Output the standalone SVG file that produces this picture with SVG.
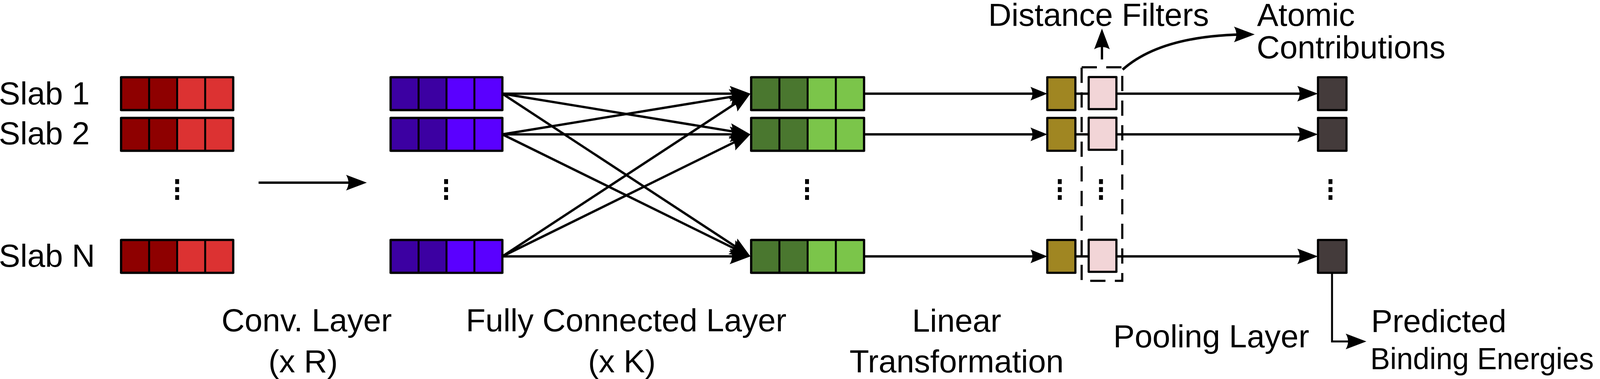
<svg xmlns="http://www.w3.org/2000/svg" width="4145" height="969" viewBox="0 0 4145 969">
<style>
text{font-family:"Liberation Sans",Arial,Helvetica,sans-serif;font-size:82px;fill:#000}
.box{stroke:#000;stroke-width:5.5;stroke-linejoin:round}
.div{stroke:#000;stroke-width:5}
.ln{fill:none;stroke:#000;stroke-width:6}
.dots{fill:none;stroke:#000;stroke-width:10;stroke-dasharray:12.5 8}
.r1{fill:#8E0000}.r2{fill:#DC3232}
.p1{fill:#3C00A2}.p2{fill:#5A00FF}
.g1{fill:#4A772F}.g2{fill:#7BC54A}
.ol{fill:#A08622}.pk{fill:#F2D5D7}.dg{fill:#443B3B}
</style>
<defs>
<marker id="big" markerUnits="userSpaceOnUse" markerWidth="53" markerHeight="40" viewBox="0 0 53 40" refX="43" refY="20" orient="auto">
<path d="M53,20 L0,0 Q12,20 0,40 Z" fill="#000"/>
</marker>
<marker id="small" markerUnits="userSpaceOnUse" markerWidth="43" markerHeight="35" viewBox="0 0 43 35" refX="33" refY="17.5" orient="auto">
<path d="M43,17.5 L0,0 Q10,17.5 0,35 Z" fill="#000"/>
</marker>
</defs>
<rect width="4145" height="969" fill="#fff"/>

<g id="connectors">
<path class="ln" d="M662,467 L929,467" marker-end="url(#big)"/>
<path class="ln" d="M1286,239.5 L1911,239.5" marker-end="url(#big)"/>
<path class="ln" d="M1286,239.5 L1911.13,341.88" marker-end="url(#big)"/>
<path class="ln" d="M1286,239.5 L1912.63,650.02" marker-end="url(#big)"/>
<path class="ln" d="M1286,343.5 L1911.13,241.12" marker-end="url(#big)"/>
<path class="ln" d="M1286,343.5 L1911,343.5" marker-end="url(#big)"/>
<path class="ln" d="M1286,343.5 L1912.02,651.09" marker-end="url(#big)"/>
<path class="ln" d="M1286,655.5 L1912.63,244.98" marker-end="url(#big)"/>
<path class="ln" d="M1286,655.5 L1912.02,347.91" marker-end="url(#big)"/>
<path class="ln" d="M1286,655.5 L1911,655.5" marker-end="url(#big)"/>
<path class="ln" d="M2212,239.5 L2671,239.5" marker-end="url(#small)"/>
<path class="ln" d="M2212,343.5 L2671,343.5" marker-end="url(#small)"/>
<path class="ln" d="M2212,655.5 L2671,655.5" marker-end="url(#small)"/>
<path class="ln" d="M2753,239.5 L2787,239.5"/>
<path class="ln" d="M2753,343.5 L2787,343.5"/>
<path class="ln" d="M2753,655.5 L2787,655.5"/>
<path class="ln" d="M2858,239.5 L3364,239.5" marker-end="url(#big)"/>
<path class="ln" d="M2858,343.5 L3364,343.5" marker-end="url(#big)"/>
<path class="ln" d="M2858,655.5 L3364,655.5" marker-end="url(#big)"/>
<path class="ln" d="M2821,152 L2821,83" marker-end="url(#big)"/>
<path class="ln" d="M2874,178 Q2975,88 3202,88" marker-end="url(#big)" style="stroke-width:6.5"/>
<path class="ln" d="M3410,697 L3410,873 L3488,873" marker-end="url(#big)" style="stroke-width:5"/>
</g>

<g id="slab-inputs">
<g id="slab1">
<rect class="box r1" x="310" y="197.5" width="287" height="84"/>
<rect class="r2" x="453.5" y="200" width="141" height="79"/>
<rect class="box" x="310" y="197.5" width="287" height="84" fill="none"/>
<path class="div" d="M381.75,197.5V281.5M453.5,197.5V281.5M525.25,197.5V281.5"/>
</g>
<g id="slab2">
<rect class="box r1" x="310" y="301.5" width="287" height="84"/>
<rect class="r2" x="453.5" y="304" width="141" height="79"/>
<rect class="box" x="310" y="301.5" width="287" height="84" fill="none"/>
<path class="div" d="M381.75,301.5V385.5M453.5,301.5V385.5M525.25,301.5V385.5"/>
</g>
<g id="slabN">
<rect class="box r1" x="310" y="613.5" width="287" height="84"/>
<rect class="r2" x="453.5" y="616" width="141" height="79"/>
<rect class="box" x="310" y="613.5" width="287" height="84" fill="none"/>
<path class="div" d="M381.75,613.5V697.5M453.5,613.5V697.5M525.25,613.5V697.5"/>
</g>
</g>

<g id="conv-outputs">
<g id="conv1">
<rect class="box p1" x="1000" y="197.5" width="286" height="84"/>
<rect class="p2" x="1143" y="200" width="141" height="79"/>
<rect class="box" x="1000" y="197.5" width="286" height="84" fill="none"/>
<path class="div" d="M1071.5,197.5V281.5M1143,197.5V281.5M1214.5,197.5V281.5"/>
</g>
<g id="conv2">
<rect class="box p1" x="1000" y="301.5" width="286" height="84"/>
<rect class="p2" x="1143" y="304" width="141" height="79"/>
<rect class="box" x="1000" y="301.5" width="286" height="84" fill="none"/>
<path class="div" d="M1071.5,301.5V385.5M1143,301.5V385.5M1214.5,301.5V385.5"/>
</g>
<g id="convN">
<rect class="box p1" x="1000" y="613.5" width="286" height="84"/>
<rect class="p2" x="1143" y="616" width="141" height="79"/>
<rect class="box" x="1000" y="613.5" width="286" height="84" fill="none"/>
<path class="div" d="M1071.5,613.5V697.5M1143,613.5V697.5M1214.5,613.5V697.5"/>
</g>
</g>

<g id="fc-outputs">
<g id="fc1">
<rect class="box g1" x="1923" y="197.5" width="289" height="84"/>
<rect class="g2" x="2067.5" y="200" width="142" height="79"/>
<rect class="box" x="1923" y="197.5" width="289" height="84" fill="none"/>
<path class="div" d="M1995.25,197.5V281.5M2067.5,197.5V281.5M2139.75,197.5V281.5"/>
</g>
<g id="fc2">
<rect class="box g1" x="1923" y="301.5" width="289" height="84"/>
<rect class="g2" x="2067.5" y="304" width="142" height="79"/>
<rect class="box" x="1923" y="301.5" width="289" height="84" fill="none"/>
<path class="div" d="M1995.25,301.5V385.5M2067.5,301.5V385.5M2139.75,301.5V385.5"/>
</g>
<g id="fcN">
<rect class="box g1" x="1923" y="613.5" width="289" height="84"/>
<rect class="g2" x="2067.5" y="616" width="142" height="79"/>
<rect class="box" x="1923" y="613.5" width="289" height="84" fill="none"/>
<path class="div" d="M1995.25,613.5V697.5M2067.5,613.5V697.5M2139.75,613.5V697.5"/>
</g>
</g>

<g id="linear">
<rect id="lin1" class="box ol" x="2681" y="197.5" width="72" height="84"/>
<rect id="lin2" class="box ol" x="2681" y="301.5" width="72" height="84"/>
<rect id="linN" class="box ol" x="2681" y="613.5" width="72" height="84"/>
</g>

<g id="filters">
<rect id="filt1" class="box pk" x="2787" y="197" width="71" height="82"/>
<rect id="filt2" class="box pk" x="2787" y="301" width="71" height="82"/>
<rect id="filtN" class="box pk" x="2787" y="613" width="71" height="82"/>
</g>

<g id="pooling">
<rect id="pool1" class="box dg" x="3374" y="197.5" width="73" height="84"/>
<rect id="pool2" class="box dg" x="3374" y="301.5" width="73" height="84"/>
<rect id="poolN" class="box dg" x="3374" y="613.5" width="73" height="84"/>
</g>

<g id="filter-group">
<rect x="2769" y="172" width="104" height="546" fill="none" stroke="#000" stroke-width="5.5" stroke-dasharray="39 24"/>
</g>

<g id="ellipses">
<path class="dots" d="M453.5,458V511M1142,458V511M2066,458V511M2713,458V511M2818.5,458V511M3406,458V511"/>
</g>

<g id="labels">
<text x="-3" y="267">Slab 1</text>
<text x="-3" y="369">Slab 2</text>
<text x="-3" y="682">Slab N</text>
<text x="785" y="847" text-anchor="middle">Conv. Layer</text>
<text x="776" y="952" text-anchor="middle">(x R)</text>
<text x="1603" y="847" text-anchor="middle">Fully Connected Layer</text>
<text x="1592" y="952" text-anchor="middle">(x K)</text>
<text x="2449" y="848" text-anchor="middle">Linear</text>
<text x="2449" y="952" text-anchor="middle">Transformation</text>
<text x="2850" y="888">Pooling Layer</text>
<text x="3510" y="849">Predicted</text>
<text x="3508" y="944" style="font-size:77px" textLength="572" lengthAdjust="spacingAndGlyphs">Binding Energies</text>
<text x="2530" y="66">Distance Filters</text>
<text x="3218" y="66">Atomic</text>
<text x="3217" y="149">Contributions</text>
</g>
</svg>
